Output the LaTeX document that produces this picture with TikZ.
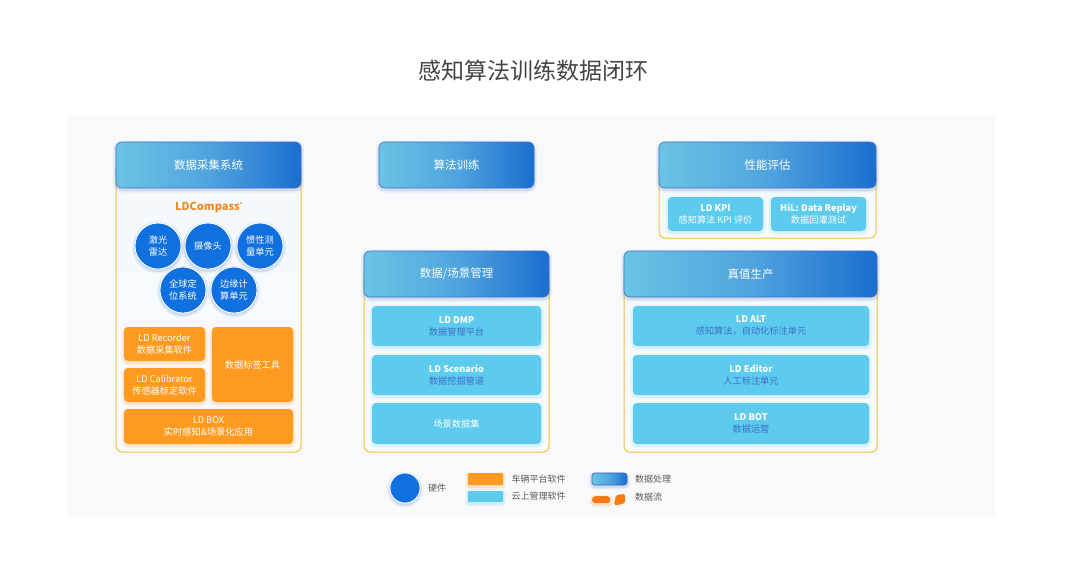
\documentclass[tikz,border=0pt]{standalone}
\usepackage{fontspec}
\setmainfont{Noto Sans CJK SC}
\usetikzlibrary{positioning}

\definecolor{backc}{HTML}{F8F9FB}
\definecolor{titlec}{HTML}{444444}
\definecolor{goldc}{HTML}{F6BE40}
\definecolor{panelc}{HTML}{F2F8FD}
\definecolor{panelb}{HTML}{FAFCFE}
\definecolor{headl}{HTML}{6AC4E4}
\definecolor{headm}{HTML}{50A4DE}
\definecolor{headr}{HTML}{1A6ECF}
\definecolor{headb}{HTML}{3F70C9}
\definecolor{orangec}{HTML}{FF9A20}
\definecolor{cloudc}{HTML}{5CCBEE}
\definecolor{inkc}{HTML}{3F70C9}
\definecolor{hardc}{HTML}{1070DF}
\definecolor{flowc}{HTML}{FB7A12}
\definecolor{logoc}{HTML}{EE8A24}
\definecolor{legendc}{HTML}{5A5A5A}

\newcommand{\fsz}[1]{\fontsize{#1}{12}\selectfont}

\begin{document}
\begin{tikzpicture}[
      x=1pt, y=-1pt,
      glow/.style={preaction={draw=#1, line width=6pt, opacity=.08, transform canvas={yshift=-1.5pt}},
        preaction={draw=#1, line width=3pt, opacity=.14, transform canvas={yshift=-1.5pt}}},
      header/.style={rectangle, draw=headb, line width=.6pt, rounded corners=6pt, anchor=north west, minimum height=46pt, outer sep=0pt,
        left color=headl, right color=headr, middle color=headm, text=white, font=\fsz{11.5}, glow=headb},
      panel/.style={rectangle, draw=goldc, line width=1pt, rounded corners=6pt, anchor=north west, outer sep=0pt,
        top color=panelc, bottom color=panelb},
      cloud/.style={rectangle, fill=cloudc, rounded corners=4pt, anchor=north west, inner sep=0pt, outer sep=0pt, align=center, text=white,
        font=\fsz{9.2}, minimum height=40pt, glow=cloudc},
      kpi/.style={cloud, minimum height=34pt, minimum width=95pt},
      soft/.style={rectangle, fill=orangec, rounded corners=4pt, anchor=north west, inner sep=0pt, outer sep=0pt, align=center, text=white,
        font=\fsz{9.2}, glow=orangec},
      hard/.style={circle, fill=hardc, draw=white, line width=.8pt, minimum size=46pt, inner sep=0pt, align=center, text=white,
        font=\fsz{9.2}, glow=headb},
      legend/.style={text=legendc, font=\fsz{9}, inner sep=0pt}
    ]

    \useasboundingbox (0,0) rectangle (1078,576);
    \node[rectangle, fill=backc, anchor=north west, inner sep=0pt, minimum width=928pt, minimum height=401pt] (back) at (67,116) {};
    \node[text=titlec, font=\fsz{23}] (title) at (533,71) {感知算法训练数据闭环};

    % Panels
    \node[panel, minimum width=185pt, minimum height=287pt] (collectpanel) at (116,165) {};
    \node[panel, minimum width=185pt, minimum height=180pt] (managepanel) at (364,272) {};
    \node[panel, minimum width=217pt, minimum height=73pt] (evalpanel) at (659,165) {};
    \node[panel, minimum width=253pt, minimum height=180pt] (truthpanel) at (624,272) {};

    % Headers
    \node[header, minimum width=185pt] (collect) at (116,142) {数据采集系统};
    \node[header, minimum width=155pt] (train) at (379,142) {算法训练};
    \node[header, minimum width=217pt] (eval) at (659,142) {性能评估};
    \node[header, minimum width=185pt] (manage) at (364,251) {数据/场景管理};
    \node[header, minimum width=253pt] (truth) at (624,251) {真值生产};

    % Data collection
    \node[text=logoc, font=\fsz{11}\bfseries] (logo) at (209,207.5) {LDCompass\textsuperscript{\tiny ®}};
    \node[hard] (lidar) at (158,246) {激光\\雷达};
    \node[hard] (camera) at (208,246) {摄像头};
    \node[hard] (imu) at (260,246) {惯性测\\量单元};
    \node[hard] (gnss) at (183,290) {全球定\\位系统};
    \node[hard] (edge) at (234,290) {边缘计\\算单元};

    \node[soft, minimum width=81pt, minimum height=34pt] (recorder) at (124,327) {LD Recorder\\数据采集软件};
    \node[soft, minimum width=81pt, minimum height=34pt, below=7pt of recorder.south west, anchor=north west] (calibrator) {LD Calibrator\\传感器标定软件};
    \node[soft, minimum width=81pt, minimum height=75pt] (labeltool) at (212,327) {数据标签工具};
    \node[soft, minimum width=169pt, minimum height=35pt] (ldbox) at (124,409) {LD BOX\\实时感知\&场景化应用};

    % Data management
    \node[cloud, minimum width=169pt] (dmp) at (372,306) {\textbf{LD DMP}\\{\color{inkc}数据管理平台}};
    \node[cloud, minimum width=169pt, below=9pt of dmp.south west, anchor=north west] (scenario) {\textbf{LD Scenario}\\{\color{inkc}数据挖掘管道}};
    \node[cloud, minimum width=169pt, minimum height=41pt, below=8pt of scenario.south west, anchor=north west] (dataset) {场景数据集};

    % Evaluation
    \node[kpi] (kpi) at (668,197) {\textbf{LD KPI}\\感知算法 KPI 评价};
    \node[kpi, right=8pt of kpi.north east, anchor=north west] (replay) {\textbf{HiL: Data Replay}\\数据回灌测试};

    % Ground truth
    \node[cloud, minimum width=236pt] (alt) at (633,306) {\textbf{LD ALT}\\{\color{inkc}感知算法，自动化标注单元}};
    \node[cloud, minimum width=236pt, below=9pt of alt.south west, anchor=north west] (editor) {\textbf{LD Editor}\\{\color{inkc}人工标注单元}};
    \node[cloud, minimum width=236pt, minimum height=41pt, below=8pt of editor.south west, anchor=north west] (bot) {\textbf{LD BOT}\\{\color{inkc}数据运营}};

    % Legend
    \node[hard, minimum size=30pt] (hardkey) at (405,488) {};
    \node[legend] (hardtext) at (437,488) {硬件};
    \node[soft, minimum width=35pt, minimum height=12pt, rounded corners=1pt] (softkey) at (468,473) {};
    \node[cloud, minimum width=35pt, minimum height=11pt, rounded corners=1pt] (cloudkey) at (468,491) {};
    \node[legend] (softtext) at (538.5,479) {车辆平台软件};
    \node[legend] (cloudtext) at (538.5,496) {云上管理软件};
    \node[header, minimum width=35pt, minimum height=12pt, rounded corners=3pt, draw=headb!90!black] (headkey) at (592,473) {};
    \node[legend] (headtext) at (653,479) {数据处理};
    \node[rectangle, fill=flowc, rounded corners=3pt, anchor=north west, inner sep=0pt, minimum width=18pt, minimum height=7pt, glow=orangec] (flowkey) at (592,496) {};
    \fill[flowc, rounded corners=1.5pt] (616,495) -- (625,494) -- (625,503) -- (618,505) -- (614,505) -- cycle;
    \node[legend] (flowtext) at (648.5,497) {数据流};

    \end{tikzpicture}
\end{document}
